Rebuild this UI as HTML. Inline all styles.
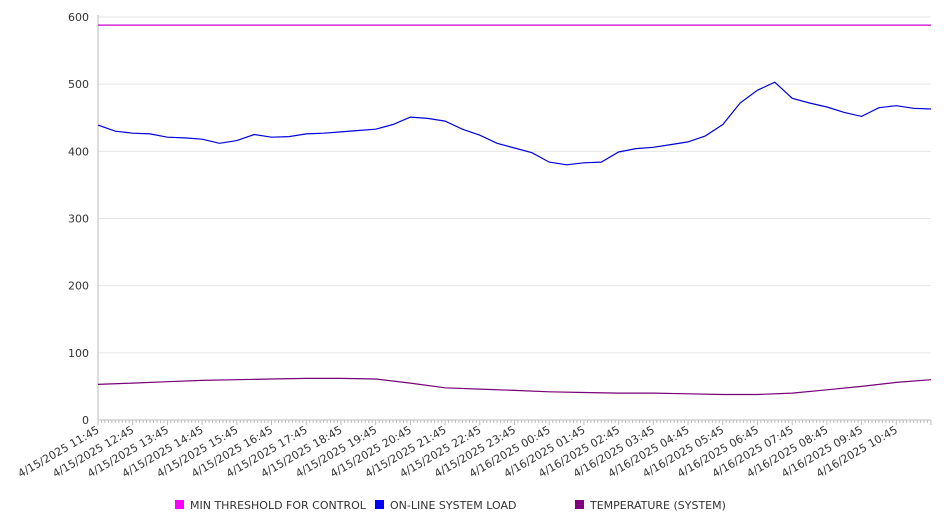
<!DOCTYPE html>
<html><head><meta charset="utf-8"><style>
body{margin:0;background:#fff;font-family:"Liberation Sans","DejaVu Sans",sans-serif;}
svg text{font-family:"DejaVu Sans","Liberation Sans",sans-serif;font-size:11px;fill:#333;}
</style></head><body>
<svg id="chart" width="946" height="526" xmlns="http://www.w3.org/2000/svg">
<g id="grid"></g>
<g id="axes"></g>
<g id="series"></g>
<g id="legend"></g>
</svg>
<script>
const xLabels=["4/15/2025 11:45","4/15/2025 12:45","4/15/2025 13:45","4/15/2025 14:45","4/15/2025 15:45","4/15/2025 16:45","4/15/2025 17:45","4/15/2025 18:45","4/15/2025 19:45","4/15/2025 20:45","4/15/2025 21:45","4/15/2025 22:45","4/15/2025 23:45","4/16/2025 00:45","4/16/2025 01:45","4/16/2025 02:45","4/16/2025 03:45","4/16/2025 04:45","4/16/2025 05:45","4/16/2025 06:45","4/16/2025 07:45","4/16/2025 08:45","4/16/2025 09:45","4/16/2025 10:45"];
const yTicks=[0,100,200,300,400,500,600];
const seriesNames=["MIN THRESHOLD FOR CONTROL","ON-LINE SYSTEM LOAD","TEMPERATURE (SYSTEM)"];
// half-hour samples, hour offset 0..24
const loadValues=[439,430,427,426,421,420,418,412,416,425,421,422,426,427,429,431,433,440,451,449,445,433,424,412,405,398,384,380,383,384,399,404,406,410,414,423,440,472,491,503,479,472,466,458,452,465,468,464,463];
// hourly samples
const tempValues=[53,55,57,59,60,61,62,62,61,55,48,46,44,42,41,40,40,39,38,38,40,45,50,56,60];
const thresholdValue=588;
const NS="http://www.w3.org/2000/svg";
const X0=98,X1=931,Y0=420,Y1=17,HOURS=24;
const xs=h=>X0+(X1-X0)*h/HOURS;
const ys=v=>Y0-(Y0-Y1)*v/600;
function mk(t,a,p){const e=document.createElementNS(NS,t);for(const k in a)e.setAttribute(k,a[k]);p.appendChild(e);return e;}
const grid=document.getElementById('grid'),axes=document.getElementById('axes'),ser=document.getElementById('series'),leg=document.getElementById('legend');
yTicks.forEach(v=>{
 if(v>0){const g=mk('line',{x1:X0,x2:X1,y1:ys(v),y2:ys(v),stroke:'#e6e6e6','stroke-width':1},grid);
 
 }
 const t=mk('text',{x:89,y:ys(v)+4,'text-anchor':'end'},axes);t.textContent=v;
 
 
});
const ax=mk('line',{x1:X0,x2:X0,y1:Y1-2,y2:Y0,stroke:'#bbb'},axes);


const bx=mk('line',{x1:X0,x2:X1,y1:Y0,y2:Y0,stroke:'#bbb'},axes);


for(let i=0;i<=HOURS*10;i++){const x=xs(i/10);mk('line',{x1:x,x2:x,y1:Y0,y2:Y0+(i%10==0?5:3),stroke:'#bbb'},axes);}
xLabels.forEach((l,i)=>{const x=xs(i)+2,y=Y0+12;
 const t=mk('text',{x:x,y:y,'text-anchor':'end',transform:`rotate(-30 ${x} ${y})`},axes);t.textContent=l;
 
 });
function line(vals,step,color,name){
 const d=vals.map((v,i)=>(i?'L':'M')+xs(i*step).toFixed(1)+' '+ys(v).toFixed(1)).join(' ');
 const p=mk('path',{d:d,fill:'none',stroke:color,'stroke-width':1.2},ser);
 
 }
line([thresholdValue,thresholdValue],24,'#cc00cc','threshold-line');
line(loadValues,0.5,'#0000dd','system-load-line');
line(tempValues,1,'#770077','temperature-line');
const lc=['#ff00ff','#0000ff','#800080'],lx=[175,375,575];
seriesNames.forEach((n,i)=>{
 const r=mk('rect',{x:lx[i],y:500,width:9,height:9,fill:lc[i]},leg);
 
 
 const t=mk('text',{x:lx[i]+15,y:509},leg);t.textContent=n;
 
 });
</script>
</body></html>
